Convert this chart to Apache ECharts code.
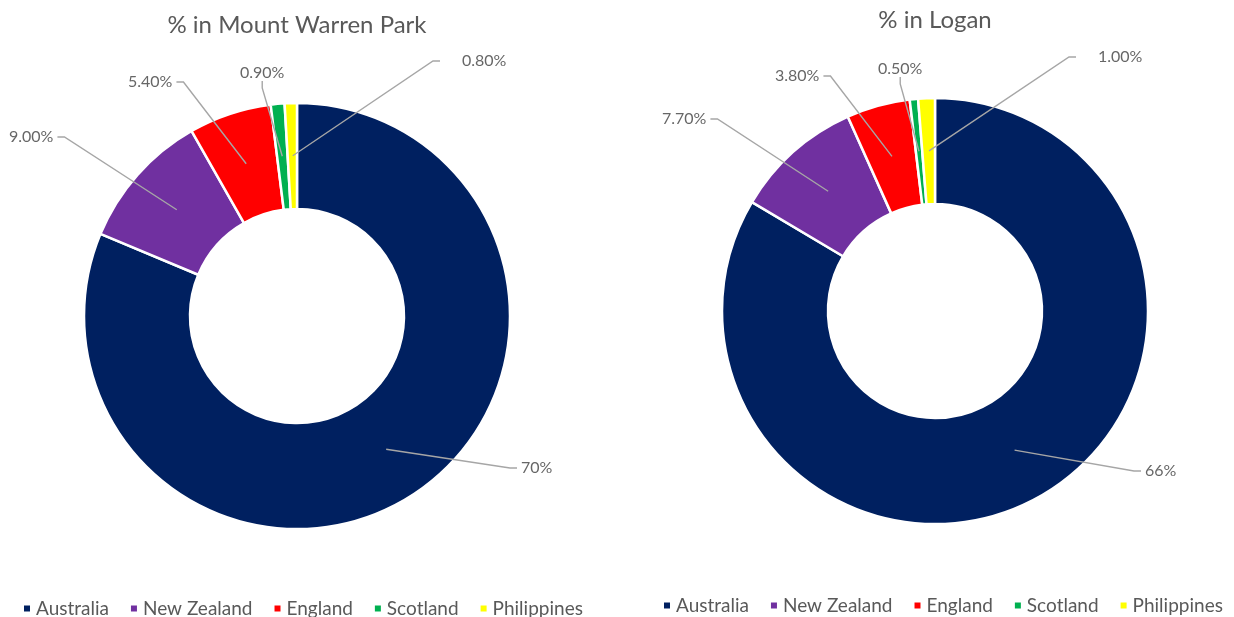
<!DOCTYPE html>
<html><head><meta charset="utf-8">
<script src="https://cdn.jsdelivr.net/npm/echarts@6/dist/echarts.min.js"></script>
<style>html,body{margin:0;padding:0;background:#fff}#c{width:1234px;height:617px}</style>
</head><body><div id="c"></div>
<script>
// ---- data ----
const categories = ['Australia', 'New Zealand', 'England', 'Scotland', 'Philippines'];
const valuesMountWarrenPark = [70, 9.0, 5.4, 0.9, 0.8];
const valuesLogan = [66, 7.7, 3.8, 0.5, 1.0];
const labelsMountWarrenPark = ['70%', '9.00%', '5.40%', '0.90%', '0.80%'];
const labelsLogan = ['66%', '7.70%', '3.80%', '0.50%', '1.00%'];
const titles = ['% in Mount Warren Park', '% in Logan'];

// ---- style / layout ----
const colors = ['#002060', '#7030A0', '#FF0000', '#00B050', '#FFFF00'];
const FONT = 'Lato';
const OUTER = 213, INNER = 107, ANCHOR_R = 160;
const panels = [
  { center: [297, 316], values: valuesMountWarrenPark, labels: labelsMountWarrenPark, title: titles[0],
    titleTop: 8, legendLeft: 17, legendTop: 594,
    labelPos: [[517, 468], [5, 137], [124, 82], [236, 73], [440, 61]], padLeft: [4, 4, 4, 4, 22] },
  { center: [935, 311], values: valuesLogan, labels: labelsLogan, title: titles[1],
    titleTop: 3, legendLeft: 657, legendTop: 591,
    labelPos: [[1141, 471], [658, 119], [771, 76], [874, 69], [1076, 57]], padLeft: [4, 4, 4, 4, 22] }
];

const option = { backgroundColor: '#fff', animation: false, title: [], legend: [], polar: [], angleAxis: [], radiusAxis: [], series: [] };
const hidden = { axisLine: { show: false }, axisTick: { show: false }, axisLabel: { show: false }, splitLine: { show: false } };

panels.forEach((p, k) => {
  const total = p.values.reduce((a, b) => a + b, 0);
  option.title.push({ text: p.title, left: p.center[0] - 5, top: p.titleTop, textAlign: 'center',
    textStyle: { fontFamily: FONT, fontSize: 24, fontWeight: 'normal', color: '#595959' } });
  option.legend.push({ data: categories, left: p.legendLeft, top: p.legendTop, icon: 'rect', itemWidth: 8, itemHeight: 8,
    itemGap: 20, textStyle: { fontFamily: FONT, fontSize: 19, color: '#595959' } });
  option.polar.push({ center: p.center, radius: OUTER });
  option.angleAxis.push(Object.assign({ polarIndex: k, type: 'value', min: 0, max: total, startAngle: 90, clockwise: true }, hidden));
  option.radiusAxis.push(Object.assign({ polarIndex: k, type: 'value', min: 0, max: OUTER }, hidden));
  option.series.push({
    type: 'pie', center: p.center, radius: [INNER, OUTER], startAngle: 90, clockwise: true,
    avoidLabelOverlap: false, silent: true,
    label: { show: false }, labelLine: { show: false },
    itemStyle: { borderColor: '#ffffff', borderWidth: 2.5 },
    data: categories.map((n, i) => ({ name: n, value: p.values[i], itemStyle: { color: colors[i] } }))
  });
  // label anchors at the middle of each slice, placed through the polar scale
  let cum = 0;
  const anchors = p.values.map((v) => { const mid = cum + v / 2; cum += v; return [ANCHOR_R, mid]; });
  option.series.push({
    type: 'scatter', name: 'labels' + k, coordinateSystem: 'polar', polarIndex: k, silent: true,
    symbol: 'circle', symbolSize: 1, itemStyle: { color: 'rgba(0,0,0,0)' },
    data: anchors.map((a, i) => ({ value: a, label: { padding: [0, 4, 0, p.padLeft[i]] } })),
    label: { show: true, fontFamily: FONT, fontSize: 16, color: '#404040', backgroundColor: 'rgba(255,255,255,0)',
      formatter: (prm) => p.labels[prm.dataIndex] },
    labelLine: { show: true, length2: 7, lineStyle: { color: '#a6a6a6', width: 1.4 } },
    labelLayout: (prm) => ({ x: p.labelPos[prm.dataIndex][0], y: p.labelPos[prm.dataIndex][1], align: 'left', verticalAlign: 'middle' })
  });
});

const chart = echarts.init(document.getElementById('c'), null, { renderer: 'canvas' });
chart.setOption(option);
</script>
</body></html>
